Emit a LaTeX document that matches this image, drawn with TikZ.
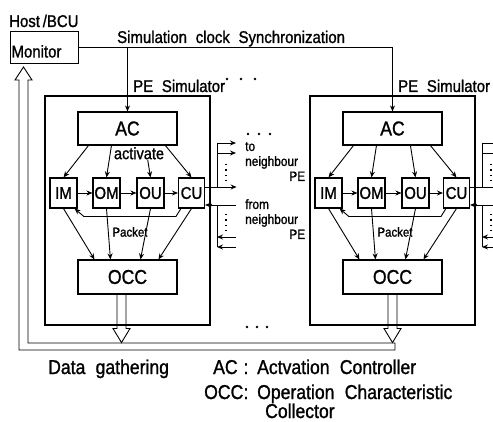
\documentclass[tikz,border=0pt]{standalone}
\usepackage{fontspec}
\setmainfont{Liberation Sans}[FakeStretch=0.88, WordSpace=2.1, FakeBold=1.2]
\usetikzlibrary{arrows.meta}
\tikzset{
	blk/.style={shape=rectangle, draw, line width=1.1pt, inner sep=0pt},
	wire/.style={line width=0.9pt},
	arr/.style={wire, -{Stealth[length=6pt, width=5pt]}},
	dots/.style={line width=1.4pt, dash pattern=on 1.4pt off 4pt},
	txt/.style={inner sep=0pt, font=\fontsize{17}{19}\selectfont},
	big/.style={font=\fontsize{20}{22}\selectfont},
	unit/.style={blk, minimum width=27pt, minimum height=30pt, font=\fontsize{17}{19}\selectfont},
	note/.style={inner sep=0pt, text width=60pt, align=left, font=\fontsize{13.5}{15}\selectfont},
	leg/.style={inner sep=0pt, font=\fontsize{20}{22}\selectfont},
	dot/.style={fill, circle, inner sep=0pt, minimum size=2.6pt}
}
\begin{document}
\begin{tikzpicture}[x=1pt, y=-1pt]
	\useasboundingbox (0, 0) rectangle (493, 422);
	\clip (0, 0) rectangle (493, 422);
	% Host side:
	\node[txt, anchor=base west] (host) at (9, 27) {Host\,/BCU};
	\node[blk, anchor=north west, text width=66pt, align=left, inner sep=1pt, minimum height=32pt, text height=20pt, font=\fontsize{17}{19}\selectfont] (mon) at (10, 31) {Monitor};
	\node[txt, anchor=base west] (sync) at (117, 43) {Simulation clock Synchronization};
	% PE simulators:
	\foreach \p/\dx/\ox in {L/0/-6pt, R/265/0pt} {
		\node[blk, line width=1.3pt, minimum width=165pt, minimum height=229pt] (pe\p) at (\dx+127.5, 210.5) {};
		\node[txt, anchor=base west] (lab\p) at (\dx+133, 92) {PE Simulator};
		\node[blk, minimum width=99pt, minimum height=33pt, big] (AC\p) at (\dx+127.5, 128.5) {AC};
		\node[unit] (IM\p) at (\dx+63.5, 193) {IM};
		\node[unit] (OM\p) at (\dx+106.5, 193) {OM};
		\node[unit] (OU\p) at (\dx+150.5, 193) {OU};
		\node[unit, minimum width=26pt] (CU\p) at (\dx+191.5, 193) {CU};
		\node[blk, minimum width=99pt, minimum height=34pt, big] (OCC\p) at (\dx+127.5, 277) {OCC};
		\node[inner sep=0pt, font=\fontsize{13}{15}\selectfont] (pk\p) at (\dx+130, 232) {Packet};
		% activation
		\draw[arr] ([xshift=11pt]AC\p.south west) -- (IM\p.north);
		\draw[arr] ([xshift=34pt]AC\p.south west) -- (OM\p.north);
		\draw[arr] ([xshift=68pt]AC\p.south west) -- (OU\p.north);
		\draw[arr] ([xshift=88pt]AC\p.south west) -- (CU\p.north);
		% pipeline
		\draw[arr] (IM\p) -- (OM\p);
		\draw[arr] (OM\p) -- (OU\p);
		\draw[arr] (OU\p) -- (CU\p);
		\draw[arr] ([xshift=3pt]CU\p.south west) -- ++(-5, 8) -- ++(-92, 0) -- ([xshift=-3pt]IM\p.south east);
		% to OCC
		\draw[arr] (IM\p.south) -- ([xshift=17pt]OCC\p.north west);
		\draw[arr] (OM\p.south) -- ([xshift=33pt]OCC\p.north west);
		\draw[arr] (OU\p.south) -- ([xshift=63pt]OCC\p.north west);
		\draw[arr] (CU\p.south) -- ([xshift=81pt]OCC\p.north west);
		\draw[wire] ([xshift=\ox-4.5pt]OCC\p.south) -- ++(0, 34) -- ++(-4, 0) -- ++(8.5, 14) -- ++(8.5, -14) -- ++(-4, 0) -- ++(0, -34);
		% neighbour links
		\coordinate (toT\p) at (\dx+217, 143);
		\coordinate (toB\p) at (\dx+217, 187);
		\coordinate (frT\p) at (\dx+217, 205);
		\coordinate (frB\p) at (\dx+217, 247);
		\draw[wire] (toT\p) -- (toB\p);
		\draw[arr] (toT\p) -- ++(19, 0);
		\draw[arr] ([yshift=-10pt]toT\p) -- ++(19, 0);
		\draw[arr] (CU\p.east |- toB\p) -- ++(31.5, 0);
		\draw[dots] (\dx+226, 164) -- (\dx+226, 181);
		\draw[arr] ([xshift=19pt]frT\p) -- (CU\p.east |- frT\p);
		\fill (\dx+210.5, 205) circle (1.8pt);
		\draw[wire] (frT\p) -- (frB\p);
		\draw[arr] ([xshift=19pt, yshift=10pt]frB\p) -- ++(-19, 0);
		\draw[arr] ([xshift=19pt]frB\p) -- (frB\p);
		\draw[dots] (\dx+226, 214) -- (\dx+226, 231);
	}
	\node[fill=white, inner sep=1pt, anchor=north, font=\fontsize{16.5}{18}\selectfont] (act) at (139, 146) {activate};
	% Synchronization:
	\draw[arr] (mon.east) -| (ACR.north);
	\draw[arr] (ACL.north |- mon.east) -- (ACL.north);
	% Data gathering:
	\draw[wire] (28, 343) -- (28, 80) -- (32, 80) -- (23.5, 67) -- (15, 80) -- (19, 80) -- (19, 350) -- (395, 350) -- (395, 343) -- cycle;
	% dots
	\node[dot] (d1) at (227, 79) {};
	\node[dot] (d2) at (241, 79) {};
	\node[dot] (d3) at (255, 79) {};
	\node[dot] (d4) at (248, 134) {};
	\node[dot] (d5) at (259, 134) {};
	\node[dot] (d6) at (270, 134) {};
	\node[dot] (d7) at (247, 327) {};
	\node[dot] (d8) at (257, 327) {};
	\node[dot] (d9) at (267, 327) {};
	\node[note, anchor=north west] (to) at (245, 142) {to\\neighbour\\\mbox{}\hfill PE};
	\node[note, anchor=north west] (from) at (245, 199) {from\\neighbour\\\mbox{}\hfill PE};
	% Legend:
	\node[leg, anchor=base west] (dg) at (48, 374) {Data gathering};
	\node[leg, anchor=base west] (k1) at (213, 374) {AC};
	\node[leg, anchor=base] (c1) at (246, 374) {:};
	\node[leg, anchor=base west] (t1) at (257, 374) {Actvation Controller};
	\node[leg, anchor=base west] (k2) at (204, 399) {OCC};
	\node[leg, anchor=base] (c2) at (246, 399) {:};
	\node[leg, anchor=base west] (t2) at (257, 399) {Operation Characteristic};
	\node[leg, anchor=base west] (t3) at (265, 418) {Collector};
\end{tikzpicture}
\end{document}
